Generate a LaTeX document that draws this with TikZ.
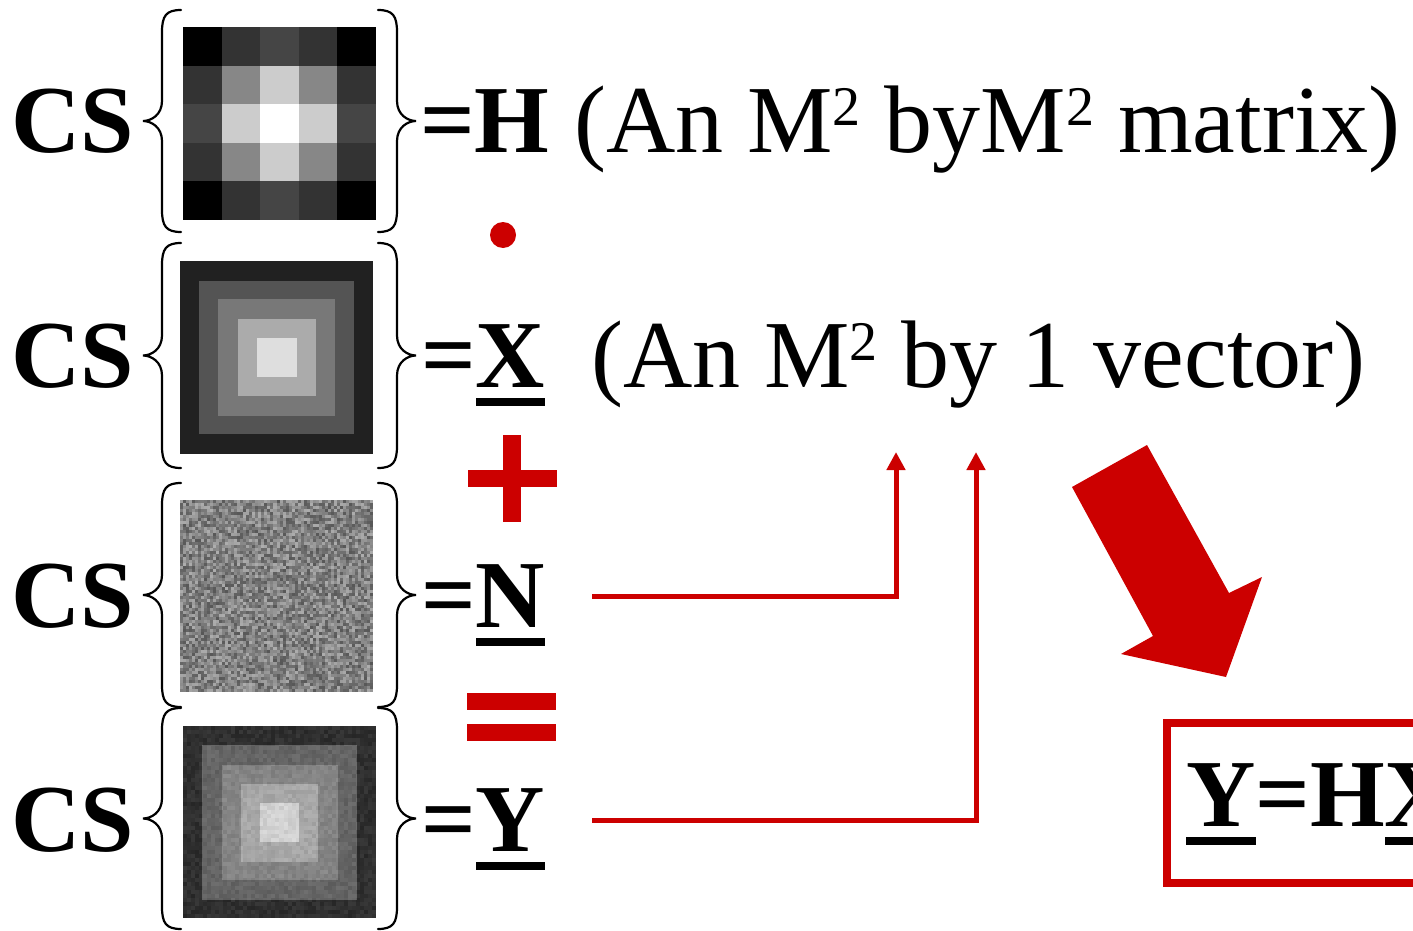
\documentclass[tikz,border=0pt]{standalone}
\usepackage{fontspec}
\setmainfont{Liberation Serif}
\usetikzlibrary{arrows.meta}
\definecolor{cred}{HTML}{CC0000}
\newsavebox\ulbox
\newcommand\ulin[1]{\sbox\ulbox{#1}\rlap{\rule[-19pt]{\wd\ulbox}{8pt}}\usebox\ulbox}
\newcommand\sqr{\raisebox{27pt}{\fontsize{56}{56}\selectfont 2}}
\newcommand\leftbr[3]{%
  \pgfmathsetmacro\ym{(#2+#3)/2}%
  \draw[bracestyle] (#1,#2) .. controls ({#1-15},#2) and ({#1-19},{#2+6}) .. ({#1-19},{#2+22})
    -- ({#1-19},{\ym-20}) .. controls ({#1-19},{\ym-6}) and ({#1-30},\ym) .. ({#1-38},\ym)
    .. controls ({#1-30},\ym) and ({#1-19},{\ym+6}) .. ({#1-19},{\ym+20})
    -- ({#1-19},{#3-22}) .. controls ({#1-19},{#3-6}) and ({#1-15},#3) .. (#1,#3);}
\newcommand\rightbr[3]{%
  \pgfmathsetmacro\ym{(#2+#3)/2}%
  \draw[bracestyle] (#1,#2) .. controls ({#1+15},#2) and ({#1+19},{#2+6}) .. ({#1+19},{#2+22})
    -- ({#1+19},{\ym-20}) .. controls ({#1+19},{\ym-6}) and ({#1+30},\ym) .. ({#1+38},\ym)
    .. controls ({#1+30},\ym) and ({#1+19},{\ym+6}) .. ({#1+19},{\ym+20})
    -- ({#1+19},{#3-22}) .. controls ({#1+19},{#3-6}) and ({#1+15},#3) .. (#1,#3);}
\definecolor{xa}{gray}{0.13}
\definecolor{xb}{gray}{0.33}
\definecolor{xc}{gray}{0.47}
\definecolor{xd}{gray}{0.67}
\definecolor{xe}{gray}{0.87}
\definecolor{ya}{gray}{0.16}
\definecolor{yb}{gray}{0.39}
\definecolor{yc}{gray}{0.52}
\definecolor{yd}{gray}{0.67}
\definecolor{ye}{gray}{0.85}
\begin{document}
\begin{tikzpicture}[x=1pt,y=-1pt,
  big/.style={font=\fontsize{96}{96}\selectfont\bfseries, inner sep=0pt, anchor=base west},
  reg/.style={font=\fontsize{96}{96}\selectfont, inner sep=0pt, anchor=base west},
  redline/.style={draw=cred, line width=5pt, -{Triangle[width=18pt,length=18pt]}},
  bracestyle/.style={line width=2.2pt, line cap=round},
  redfill/.style={fill=cred}]
\useasboundingbox (0,0) rectangle (1413,931);
\clip (0,0) rectangle (1413,931);

% ---------- image H (5x5 kernel) ----------
\foreach \i/\j/\v in {0/0/0,1/0/20,2/0/27,3/0/20,4/0/0,
                      0/1/20,1/1/53,2/1/80,3/1/53,4/1/20,
                      0/2/27,1/2/80,2/2/100,3/2/80,4/2/27,
                      0/3/20,1/3/53,2/3/80,3/3/53,4/3/20,
                      0/4/0,1/4/20,2/4/27,3/4/20,4/4/0}{
  \fill[white!\v!black] ({183+\i*38.6},{27+\j*38.6}) rectangle ++(38.8,38.8);
}

% ---------- image X ----------
\fill[xa] (180,261) rectangle (373,454);
\fill[xb] (199,281) rectangle (354,434);
\fill[xc] (218,299) rectangle (335,416);
\fill[xd] (238,319) rectangle (316,396);
\fill[xe] (257,338) rectangle (297,377);

% ---------- image N (noise) ----------
\pgfmathsetseed{7}
\fill[gray] (180,500) rectangle (373,692);
\foreach \i in {0,...,63}{
  \foreach \j in {0,...,63}{
    \pgfmathsetmacro\g{0.34+0.34*rnd}
    \definecolor{ng}{gray}{\g}
    \fill[ng] ({180+\i*3.016},{500+\j*3}) rectangle ++(3.1,3.1);
  }
}

% ---------- image Y ----------
\fill[ya] (183,726) rectangle (376,918);
\fill[yb] (202,745) rectangle (357,900);
\fill[yc] (222,765) rectangle (338,880);
\fill[yd] (241,784) rectangle (318,862);
\fill[ye] (260,803) rectangle (299,842);
\foreach \i in {0,...,47}{
  \foreach \j in {0,...,47}{
    \pgfmathsetmacro\g{rnd}
    \definecolor{ng}{gray}{\g}
    \fill[ng, opacity=0.08] ({183+\i*4.02},{726+\j*4}) rectangle ++(4.02,4);
  }
}

% ---------- braces ----------
\leftbr{181}{10}{232}
\rightbr{378}{10}{232}
\leftbr{181}{243}{468}
\rightbr{378}{243}{468}
\leftbr{181}{483}{707}
\rightbr{378}{483}{707}
\leftbr{181}{708}{929}
\rightbr{378}{708}{929}

% ---------- texts ----------
\node[big] (cs1) at (11,153) {CS};
\node[big] (cs2) at (11,387) {CS};
\node[big] (cs3) at (11,627) {CS};
\node[big] (cs4) at (11,851) {CS};

\node[big] (h) at (420,153) {=H};
\node[reg] (hdesc) at (574,153) {(An M\sqr{} byM\sqr{} matrix)};
\node[big] (x) at (421,387) {=\ulin{X}};
\node[reg] (xdesc) at (591,387) {(An M\sqr{} by 1 vector)};
\node[big] (n) at (421,627) {=\ulin{N}};
\node[big] (y) at (421,851) {=\ulin{Y}};

% ---------- red operators ----------
\fill[redfill] (503,235) circle (13);
\fill[redfill] (468,470) rectangle (557,487);
\fill[redfill] (503,435) rectangle (521,522);
\fill[redfill] (467,693) rectangle (556,710);
\fill[redfill] (467,724) rectangle (556,741);

% ---------- connectors ----------
\coordinate (nstart) at (592,596);
\coordinate (ystart) at (592,820);
\coordinate (tipn) at (896,452);
\coordinate (tipy) at (976,452);
\draw[redline] (nstart) -| (tipn);
\draw[redline] (ystart) -| (tipy);

% ---------- big arrow ----------
\fill[redfill] (1072,487) -- (1147,445) -- (1229,593) -- (1262,577) -- (1226,677) -- (1121,654) -- (1153,636) -- cycle;

% ---------- result box ----------
\node[big] (eq) at (1186,826) {\ulin{Y}=H\ulin{X}};
\draw[cred, line width=8pt] (1167,723) rectangle (1520,883);
\end{tikzpicture}
\end{document}
